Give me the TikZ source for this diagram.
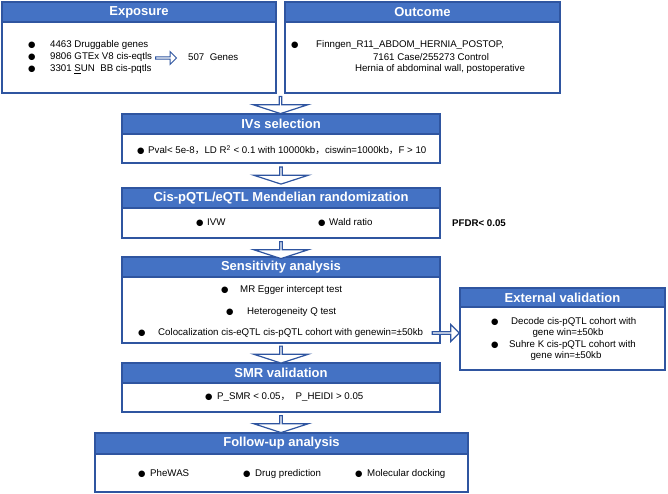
\documentclass[tikz,border=0pt]{standalone}
\usepackage{fontspec}
\setmainfont{Liberation Sans}
\newfontfamily\cjk{Noto Sans CJK SC}
\newfontfamily\symf{DejaVu Sans}
\usetikzlibrary{shapes.arrows, positioning, calc}
\definecolor{hdrblue}{RGB}{68,114,196}
\definecolor{edgeblue}{RGB}{47,85,160}
\newcommand{\bul}[1][12pt]{\makebox[#1][l]{\symf\fontsize{8.5}{8.5}\selectfont ●}}
\tikzset{
    header/.style={rectangle, draw=edgeblue, fill=hdrblue, line width=1.2pt, minimum height=20pt, inner sep=0pt, outer sep=0pt, text=white, font=\fontsize{13}{15}\selectfont\bfseries},
    panel/.style={rectangle, draw=edgeblue, fill=white, line width=1.2pt, inner sep=0pt, outer sep=0pt},
    txt/.style={inner sep=0pt, anchor=west, font=\fontsize{9.7}{11}\selectfont},
    ctxt/.style={inner sep=0pt, font=\fontsize{9.7}{11}\selectfont},
    downarrow/.style={single arrow, draw=edgeblue, fill=white, line width=1.2pt, inner sep=0pt, shape border rotate=270, minimum height=17pt, minimum width=55pt, single arrow head extend=13.5pt, single arrow tip angle=144},
    rightarrow/.style={single arrow, draw=edgeblue, fill=white, line width=1.2pt, inner sep=0pt, minimum height=27pt, minimum width=17pt, single arrow head extend=3.5pt},
}

\begin{document}
\begin{tikzpicture}[x=1pt, y=-1pt]
    \useasboundingbox (0,0) rectangle (668,494);

    % Panels
    \node[header, minimum width=274pt] (expohead) at (139,12) {Exposure};
    \node[panel, minimum width=274pt, minimum height=71pt, below=0pt of expohead] (expobody) {};
    \node[header, minimum width=275pt] (outchead) at (422.5,12) {Outcome};
    \node[panel, minimum width=275pt, minimum height=71pt, below=0pt of outchead] (outcbody) {};

    \node[header, minimum width=318pt] (ivshead) at (281,124) {IVs selection};
    \node[panel, minimum width=318pt, minimum height=29pt, below=0pt of ivshead] (ivsbody) {};

    \node[header, minimum width=318pt] (mrhead) at (281,198) {Cis-pQTL/eQTL Mendelian randomization};
    \node[panel, minimum width=318pt, minimum height=30pt, below=0pt of mrhead] (mrbody) {};

    \node[header, minimum width=318pt] (senshead) at (281,267) {Sensitivity analysis};
    \node[panel, minimum width=318pt, minimum height=66pt, below=0pt of senshead] (sensbody) {};

    \node[header, minimum width=205pt, minimum height=19pt] (exthead) at (562.5,297.5) {External validation};
    \node[panel, minimum width=205pt, minimum height=63pt, below=0pt of exthead] (extbody) {};

    \node[header, minimum width=318pt] (smrhead) at (281,373) {SMR validation};
    \node[panel, minimum width=318pt, minimum height=29pt, below=0pt of smrhead] (smrbody) {};

    \node[header, minimum width=373pt, minimum height=21pt] (fuphead) at (281.5,443.5) {Follow-up analysis};
    \node[panel, minimum width=373pt, minimum height=38pt, below=0pt of fuphead] (fupbody) {};

    % Texts
    \node[txt] (expo1) at (28,45) {\bul[22pt]4463 Druggable genes};
    \node[txt] (expo2) at (28,57) {\bul[22pt]9806 GTEx V8 cis-eqtls};
    \node[txt] (expo3) at (28,69) {\bul[22pt]3301 \underline{S}UN\ \ BB cis-pqtls};
    \node[txt] (genes) at (188,57) {507\ \ Genes};

    \node[txt] (outc1) at (291,45) {\bul[25pt]Finngen\_R11\_ABDOM\_HERNIA\_POSTOP,};
    \node[ctxt] (outc2) at (431,57) {7161 Case/255273 Control};
    \node[ctxt] (outc3) at (440,69) {Hernia of abdominal wall, postoperative};

    \node[txt] (ivs1) at (137,150) {\bul[11pt]Pval< 5e-8{\cjk，}LD R\textsuperscript{2} < 0.1 with 10000kb{\cjk，}ciswin=1000kb{\cjk，}F > 10};

    \node[txt] (ivw) at (196,223) {\bul[11pt]IVW};
    \node[txt] (wald) at (318,223) {\bul[11pt]Wald ratio};
    \node[txt, font=\fontsize{9.7}{11}\selectfont\bfseries] (pfdr) at (452,223) {PFDR< 0.05};

    \node[txt] (egger) at (221,290) {\bul[19pt]MR Egger intercept test};
    \node[txt] (hetero) at (226,312) {\bul[21pt]Heterogeneity Q test};
    \node[txt] (coloc) at (138,333) {\bul[20pt]Colocalization cis-eQTL cis-pQTL cohort with genewin=±50kb};

    \node[txt] (decode) at (491,322) {\bul[20pt]Decode cis-pQTL cohort with};
    \node[ctxt] (decodewin) at (568,333) {gene win=±50kb};
    \node[txt] (suhre) at (491,345) {\bul[18pt]Suhre K cis-pQTL cohort with};
    \node[ctxt] (suhrewin) at (566,356) {gene win=±50kb};

    \node[txt] (smr1) at (205,397) {\bul[12pt]P\_SMR < 0.05{\cjk，}\ \ P\_HEIDI > 0.05};

    \node[txt] (phewas) at (138,474) {\bul[12pt]PheWAS};
    \node[txt] (drug) at (243,474) {\bul[12pt]Drug prediction};
    \node[txt] (docking) at (355,474) {\bul[12pt]Molecular docking};

    % Connections
    \node[rightarrow, minimum height=21pt, minimum width=13pt, single arrow head extend=2.5pt, line width=1pt, anchor=tail] (garrow) at (155,58) {};
    \node[downarrow, anchor=tail] (arr1) at ($(expobody.south east)!0.5!(outcbody.south west)+(0,3)$) {};
    \node[downarrow, anchor=tail] (arr2) at ($(ivsbody.south)+(0,3.5)$) {};
    \node[downarrow, anchor=tail] (arr3) at ($(mrbody.south)+(0,3)$) {};
    \node[downarrow, anchor=tail] (arr4) at ($(sensbody.south)+(0,2.5)$) {};
    \node[downarrow, anchor=tail] (arr5) at ($(smrbody.south)+(0,3)$) {};
    \node[rightarrow, anchor=tip] (arr6) at (extbody.west |- coloc.west) {};
\end{tikzpicture}
\end{document}
